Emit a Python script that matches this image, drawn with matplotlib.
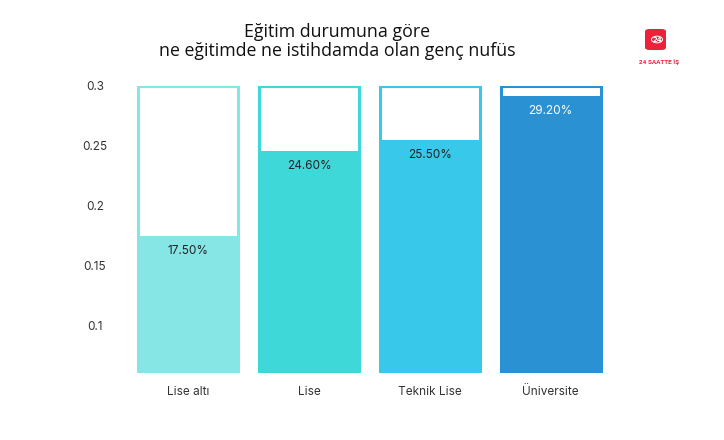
import numpy as np
import matplotlib
matplotlib.use("Agg")
from matplotlib import pyplot as plt
from matplotlib.patches import FancyBboxPatch, Circle

categories = ["Lise altı", "Lise", "Teknik Lise", "Üniversite"]
values = [0.175, 0.246, 0.255, 0.292]
value_labels = ["17.50%", "24.60%", "25.50%", "29.20%"]
y_ticks = [0.1, 0.15, 0.2, 0.25, 0.3]
y_tick_labels = ["0.1", "0.15", "0.2", "0.25", "0.3"]
box_top = 0.3

colors = ["#86E5E5", "#3ED8D8", "#38C8EA", "#2A91D2"]
text_colors = ["#222222", "#222222", "#222222", "#FFFFFF"]

W, H = 724, 440
fig = plt.figure(figsize=(W / 100, H / 100), dpi=100)
fig.patch.set_facecolor("white")

bottom = 0.06
ax = fig.add_axes([128 / W, (H - 373.3) / H, 483 / W, (373.3 - 86) / H])
ax.set_xlim(-0.5, 3.5)
ax.set_ylim(bottom, box_top)

x = np.arange(len(categories))
width = 0.83

# empty outline boxes up to 0.3
ax.bar(x, [box_top - bottom] * len(x), bottom=bottom, width=width,
       color="white", edgecolor=colors, linewidth=2.2, zorder=2)
# filled part
ax.bar(x, np.array(values) - bottom, bottom=bottom, width=width,
       color=colors, linewidth=0, zorder=3)

for xi, v, lab, tc in zip(x, values, value_labels, text_colors):
    ax.annotate(lab, (xi, v), xytext=(0, -11), textcoords="offset points",
                ha="center", va="center", fontsize=8.5, color=tc,
                family="Inter", zorder=4)

for s in ax.spines.values():
    s.set_visible(False)

ax.set_xticks(x)
ax.set_xticklabels(categories, family="Inter", fontsize=8.5, color="#333333")
ax.set_yticks(y_ticks)
ax.set_yticklabels(y_tick_labels, family="Inter", fontsize=8.5, color="#333333")
ax.tick_params(axis="x", length=0, pad=9)
ax.tick_params(axis="y", length=0, pad=23.8)
for t in ax.get_yticklabels():
    t.set_horizontalalignment("center")

# title
fig.text(337 / W, 1 - 37 / H, "Eğitim durumuna göre", ha="center",
         va="baseline", fontsize=12.8, family="Open Sans", weight=500,
         color="#111111")
fig.text(337 / W, 1 - 56 / H, "ne eğitimde ne istihdamda olan genç nufüs",
         ha="center", va="baseline", fontsize=12.8, family="Open Sans",
         weight=500, color="#111111")

# logo
red = "#F0203A"
logo = FancyBboxPatch((645 / W, 1 - 50 / H), 21 / W, 21 / H,
                      boxstyle="round,pad=0,rounding_size=0.006",
                      transform=fig.transFigure, facecolor=red,
                      edgecolor="none")
fig.patches.append(logo)
fig.patches.append(Circle((657 / W, 1 - 39.5 / H), 5.5 / W,
                          transform=fig.transFigure, facecolor="none",
                          edgecolor="white", linewidth=0.7))
fig.text(657 / W, 1 - 39.5 / H, "24", ha="center", va="center",
         fontsize=5, color="white", weight="bold", zorder=5)
fig.text(659 / W, 1 - 62.3 / H, "24 SAATTE İŞ", ha="center", va="center",
         fontsize=4.6, color=red, weight="bold", family="Roboto")

fig.savefig("out.png", dpi=100, facecolor="white")
